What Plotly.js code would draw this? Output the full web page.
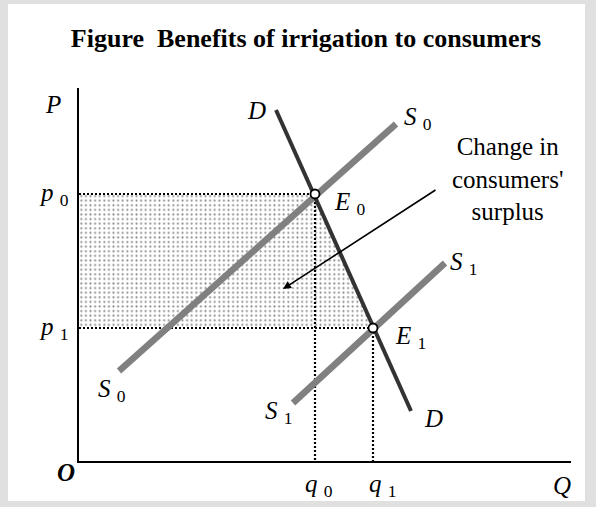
<!DOCTYPE html>
<html>
<head>
<meta charset="utf-8">
<script src="https://cdn.plot.ly/plotly-3.0.1.min.js"></script>
<style>
  html, body { margin: 0; padding: 0; background: #e0e0e0; }
  #chart { width: 596px; height: 507px; }
</style>
</head>
<body>
<div id="chart"></div>
<script>
// price / quantity at the two equilibria (chart units)
let q0 = 236, q1 = 294;
let p0 = 267, p1 = 133;

// curve end points
let demand_x = [197, 332];
let demand_y = [351, 50];
let supply0_x = [40, 317];
let supply0_y = [90, 337];
let supply1_x = [214, 366];
let supply1_y = [58, 198];

let x_max = 492, y_max = 373;
let serif = "Liberation Serif, Times New Roman, serif";

let surplus = {
  x: [0, q0, q1, 0],
  y: [p0, p0, p1, p1],
  fill: "toself",
  mode: "none",
  fillcolor: "white",
  fillpattern: { shape: ".", size: 4.6, solidity: 0.16, fgcolor: "#8a8a8a", bgcolor: "white" },
  hoverinfo: "skip",
};

let dotted = { color: "black", width: 2.2, dash: "2px,2px" };
let guide_p0 = { x: [0, q0], y: [p0, p0], mode: "lines", line: dotted };
let guide_p1 = { x: [0, q1], y: [p1, p1], mode: "lines", line: dotted };
let guide_q0 = { x: [q0, q0], y: [p0, 0], mode: "lines", line: dotted };
let guide_q1 = { x: [q1, q1], y: [p1, 0], mode: "lines", line: dotted };

let s0 = { x: supply0_x, y: supply0_y, mode: "lines", line: { color: "#808080", width: 6.5 } };
let s1 = { x: supply1_x, y: supply1_y, mode: "lines", line: { color: "#808080", width: 6.5 } };
let d = { x: demand_x, y: demand_y, mode: "lines", line: { color: "#333333", width: 4 } };

let eq = {
  x: [q0, q1],
  y: [p0, p1],
  mode: "markers",
  marker: { size: 9, color: "white", line: { color: "black", width: 1.8 } },
};

// labels inside the axes use data units; the ones outside go through paper units
function label(text, x, y, anchor) {
  let outside = x < 0 || y < 0;
  return {
    x: outside ? x / x_max : x,
    y: outside ? y / y_max : y,
    xref: outside ? "paper" : "x",
    yref: outside ? "paper" : "y",
    text: text, showarrow: false,
    xanchor: anchor || "center", yanchor: "middle",
    font: { family: serif, size: 25, color: "black" },
  };
}

let annotations = [
  label("<i>P</i>", -26, 357),
  label("<i>p</i> <sub>0</sub>", -8, p0, "right"),
  label("<i>p</i> <sub>1</sub>", -8, p1, "right"),
  label("<i>D</i>", 177, 351),
  label("<i>S</i> <sub>0</sub>", 339, 343),
  label("<i>E</i> <sub>0</sub>", 271, 258),
  label("<i>S</i> <sub>1</sub>", 385, 198),
  label("<i>E</i> <sub>1</sub>", 331, 124),
  label("<i>D</i>", 354, 43),
  label("<i>S</i> <sub>0</sub>", 33, 71),
  label("<i>S</i> <sub>1</sub>", 200, 49),
  label("<i>q</i> <sub>0</sub>", 240, -24),
  label("<i>q</i> <sub>1</sub>", 304, -24),
  label("<i>Q</i>", 483, -24),
  label("<b><i>O</i></b>", -13, -11),
  label("Change in<br>consumers'<br>surplus", 428, 282),
  {
    x: 204, y: 172, ax: 358, ay: 272,
    xref: "x", yref: "y", axref: "x", ayref: "y",
    text: "", showarrow: true,
    arrowhead: 2, arrowsize: 1, arrowwidth: 1.6, arrowcolor: "black",
  },
];

let layout = {
  width: 596,
  height: 507,
  margin: { l: 79, r: 25, t: 88, b: 46 },
  paper_bgcolor: "#e0e0e0",
  plot_bgcolor: "white",
  showlegend: false,
  title: {
    text: "<b>Figure  Benefits of irrigation to consumers</b>",
    font: { family: serif, size: 26, color: "black" },
    x: 306 / 596, xanchor: "center", xref: "container",
    y: 1 - 38 / 507, yanchor: "middle", yref: "container",
  },
  xaxis: {
    range: [0, x_max], showline: true, linecolor: "black", linewidth: 2,
    showgrid: false, zeroline: false, showticklabels: false, ticks: "", fixedrange: true,
  },
  yaxis: {
    range: [0, y_max], showline: true, linecolor: "black", linewidth: 2,
    showgrid: false, zeroline: false, showticklabels: false, ticks: "", fixedrange: true,
  },
  shapes: [
    {
      type: "rect", xref: "paper", yref: "paper", layer: "below",
      x0: (8 - 79) / x_max, x1: (585 - 79) / x_max,
      y0: (461 - 501) / y_max, y1: (461 - 4) / y_max,
      fillcolor: "white", line: { width: 0 },
    },
  ],
  annotations: annotations,
};

Plotly.newPlot("chart", [surplus, guide_p0, guide_p1, guide_q0, guide_q1, s0, s1, d, eq], layout, {
  displayModeBar: false, staticPlot: true,
});
</script>
</body>
</html>
